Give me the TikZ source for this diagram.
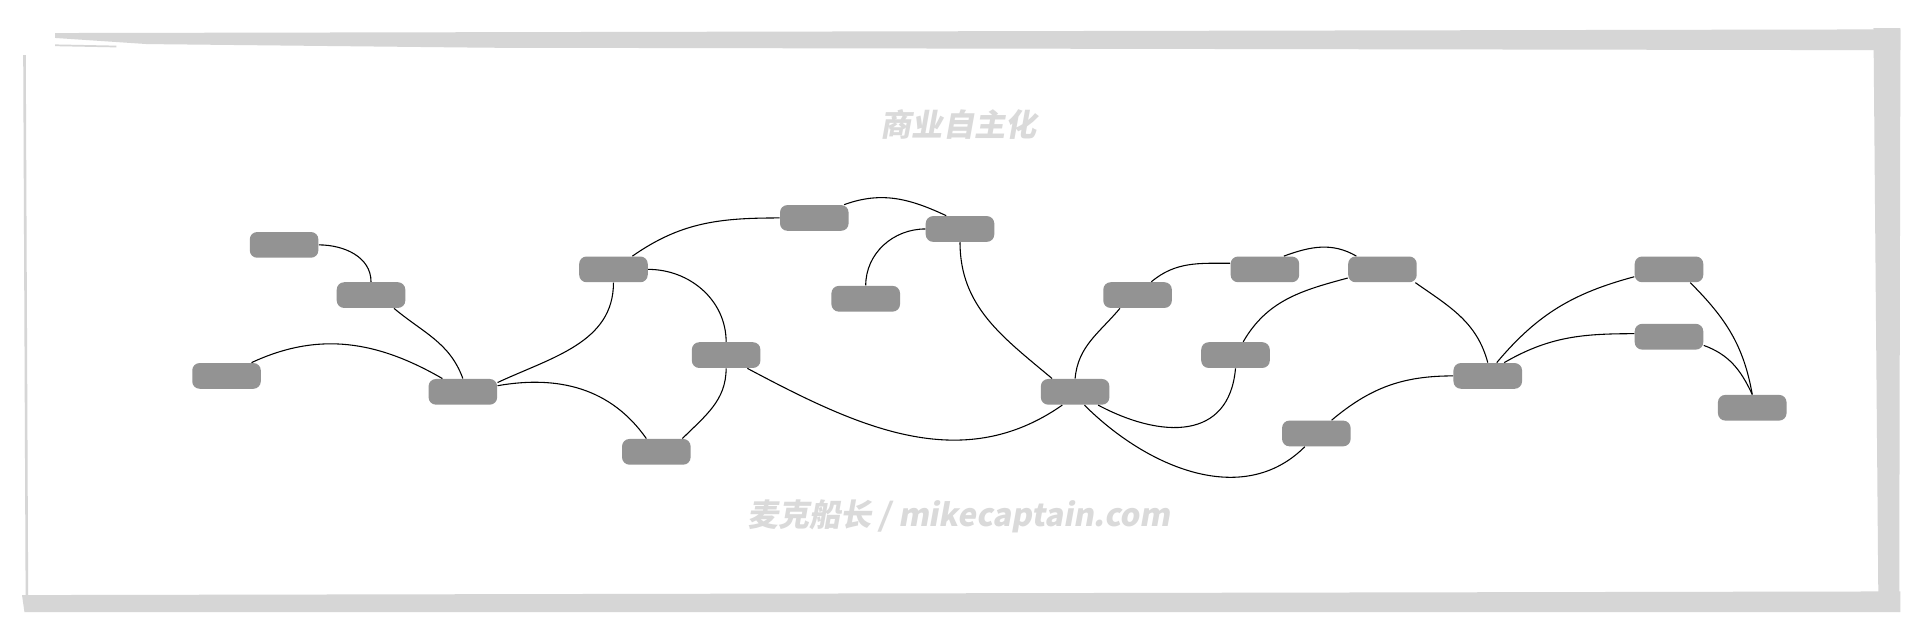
\documentclass[tikz,border=0pt]{standalone}
\usepackage{tikz}
\usetikzlibrary{positioning}
\usepackage{xcolor}
\usepackage{fontspec}
\newfontfamily\markfont[FakeSlant=0.18]{Noto Sans CJK SC}
\definecolor{blobgray}{HTML}{939393}
\definecolor{framegray}{HTML}{D6D6D6}
\definecolor{markgray}{HTML}{DADADA}
\tikzset{
  blob/.style={fill=blobgray, rounded corners=0.12cm, minimum width=1.12cm, minimum height=0.42cm, inner sep=0pt},
  link/.style={line width=0.5pt, black},
  watermark/.style={text=markgray, font=\markfont\bfseries\fontsize{14.5}{16}\selectfont}
}

\begin{document}
\begin{tikzpicture}[x=0.02cm, y=0.02cm]
    \useasboundingbox (0,0) rectangle (1568,523);
    \fill[white] (0,0) rectangle (1568,523);
    % frame
    \fill[framegray] (45,496) -- (1552,499) -- (1552,482) -- (400,484) -- (120,487) -- (45,492) -- cycle;
    \fill[framegray] (1530,500) -- (1552,500) -- (1551,23) -- (1534,32) -- cycle;
    \fill[framegray] (18,37) -- (1552,40) -- (1552,23) -- (20,23) -- cycle;
    \draw[framegray, line width=1.2pt] (20,478) -- (22,30);
    \draw[framegray, line width=0.8pt] (45,486) -- (95,485);
    \node[watermark] (title) at (783,421) {商业自主化};
    \node[watermark] (site) at (783,101) {麦克船长 / mikecaptain.com};

    \node[blob] (n1) at (232,323) {};
    \node[blob] (n2) at (303,282) {};
    \node[blob] (n3) at (185,216) {};
    \node[blob] (n4) at (378,203) {};
    \node[blob] (n5) at (501,303) {};
    \node[blob] (n6) at (665,345) {};
    \node[blob] (n7) at (784,336) {};
    \node[blob] (n8) at (707,279) {};
    \node[blob] (n9) at (593,233) {};
    \node[blob] (n10) at (536,154) {};
    \node[blob] (n11) at (878,203) {};
    \node[blob] (n12) at (929,282) {};
    \node[blob] (n13) at (1033,303) {};
    \node[blob] (n14) at (1129,303) {};
    \node[blob] (n15) at (1009,233) {};
    \node[blob] (n16) at (1075,169) {};
    \node[blob] (n17) at (1215,216) {};
    \node[blob] (n18) at (1363,303) {};
    \node[blob] (n19) at (1363,248) {};
    \node[blob] (n20) at (1431,190) {};

    \draw[link] (n1.east) to[out=0, in=90] (n2.north);
    \draw[link] (n2.-30) to[out=-40, in=110] (n4.north);
    \draw[link] (n3.28) to[out=25, in=150] (n4.147);
    \draw[link] (n4.15) to[out=25, in=-90] (n5.south);
    \draw[link] (n4.10) to[out=10, in=125] (n10.127);
    \draw[link] (n5.35) to[out=35, in=180] (n6.west);
    \draw[link] (n5.east) to[out=0, in=90] (n9.north);
    \draw[link] (n9.south) to[out=-90, in=45] (n10.27);
    \draw[link] (n9.-32) to[out=-28, in=-145] (n11.-134);
    \draw[link] (n6.24) to[out=20, in=155] (n7.136);
    \draw[link] (n7.west) to[out=180, in=90] (n8.north);
    \draw[link] (n7.south) to[out=-90, in=140] (n11.150);
    \draw[link] (n11.north) to[out=85, in=-130] (n12.-143);
    \draw[link] (n12.44) to[out=40, in=180] (n13.170);
    \draw[link] (n13.35) to[out=20, in=150] (n14.153);
    \draw[link] (n14.194) to[out=195, in=60] (n15.60);
    \draw[link] (n11.-30) to[out=-28, in=-95, looseness=1.3] (n15.south);
    \draw[link] (n11.-55) to[out=-45, in=-135] (n16.-131);
    \draw[link] (n14.-22) to[out=-35, in=105] (n17.north);
    \draw[link] (n16.41) to[out=40, in=180] (n17.west);
    \draw[link] (n17.56) to[out=50, in=195] (n18.192);
    \draw[link] (n17.39) to[out=30, in=180] (n19.175);
    \draw[link] (n18.-32) to[out=-45, in=100] (n20.north);
    \draw[link] (n19.-14) to[out=-20, in=115] (n20.north);
\end{tikzpicture}
\end{document}
